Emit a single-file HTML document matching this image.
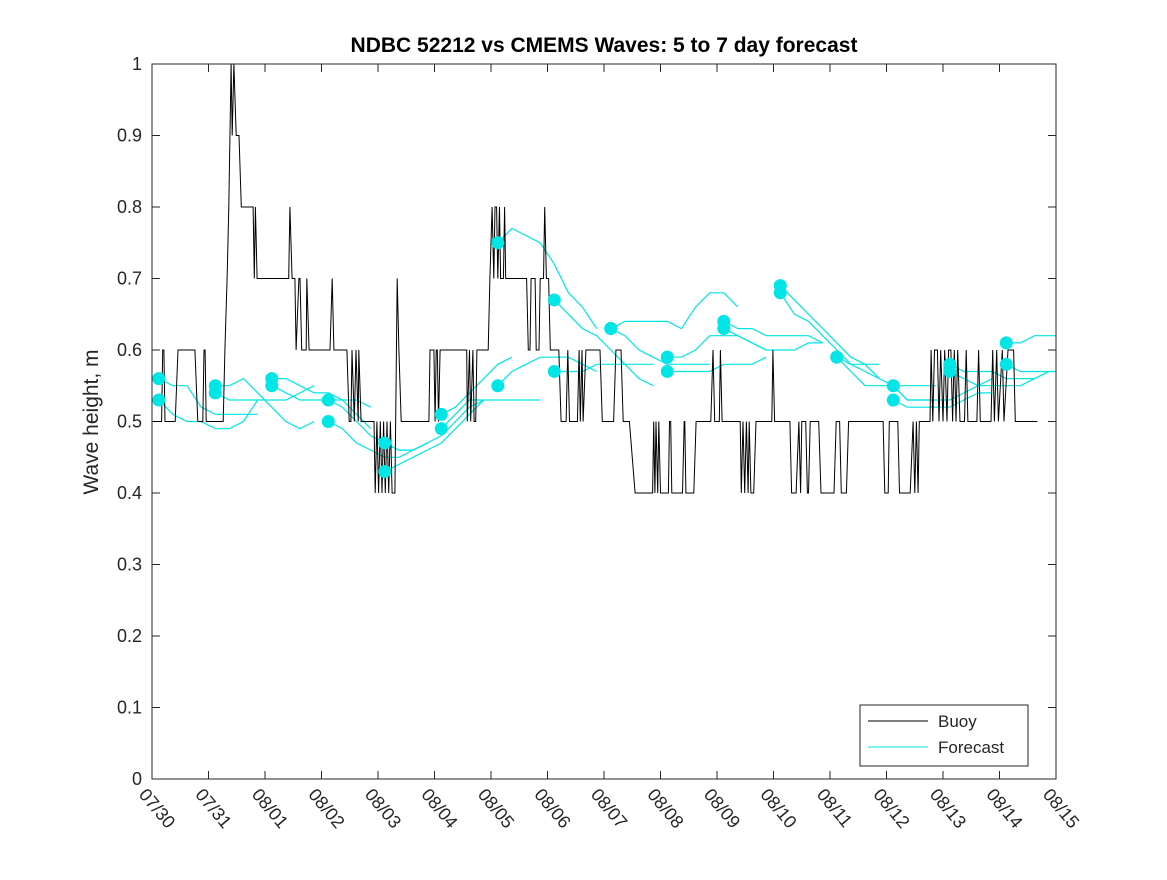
<!DOCTYPE html>
<html><head><meta charset="utf-8"><style>
body{margin:0;background:#fff}
svg text{font-family:"Liberation Sans",sans-serif;fill:#262626}
</style></head><body>
<svg id="chart" width="1167" height="875" viewBox="0 0 1167 875" xmlns="http://www.w3.org/2000/svg">
<defs><clipPath id="plotclip"><rect x="152" y="60" width="904" height="722"/></clipPath></defs>
<rect width="1167" height="875" fill="#fff"/>
<text x="604" y="52" text-anchor="middle" font-size="21" font-weight="bold" style="fill:#000">NDBC 52212 vs CMEMS Waves: 5 to 7 day forecast</text>
<text transform="translate(98,422) rotate(-90)" text-anchor="middle" font-size="21">Wave height, m</text>
<g id="grid"></g>
<g id="series" clip-path="url(#plotclip)"></g>
<rect x="152" y="64" width="904" height="715" fill="none" stroke="#262626" stroke-width="1"/>
<g>
<rect x="860" y="705" width="168" height="61" fill="#fff" stroke="#262626"/>
<line x1="868" y1="721" x2="928" y2="721" stroke="#000"/>
<text x="938" y="727" font-size="17">Buoy</text>
<line x1="868" y1="747" x2="928" y2="747" stroke="#00e5e5"/>
<text x="938" y="753" font-size="17">Forecast</text>
</g>
</svg>
<script>
const xTickLabels=["07/30","07/31","08/01","08/02","08/03","08/04","08/05","08/06","08/07","08/08","08/09","08/10","08/11","08/12","08/13","08/14","08/15"];
const yTicks=[0,0.1,0.2,0.3,0.4,0.5,0.6,0.7,0.8,0.9,1];
const buoyData=[[0,0.5],[0.17,0.5],[0.19,0.6],[0.21,0.6],[0.23,0.5],[0.41,0.5],[0.46,0.6],[0.76,0.6],[0.81,0.5],[0.90,0.5],[0.92,0.6],[0.94,0.6],[0.96,0.5],[1.26,0.5],[1.29,0.6],[1.33,0.7],[1.36,0.8],[1.40,1.0],[1.42,0.9],[1.45,1.0],[1.49,0.9],[1.54,0.9],[1.58,0.8],[1.79,0.8],[1.81,0.7],[1.83,0.8],[1.86,0.7],[2.42,0.7],[2.44,0.8],[2.48,0.7],[2.53,0.7],[2.55,0.6],[2.60,0.7],[2.62,0.7],[2.65,0.6],[2.73,0.6],[2.74,0.7],[2.78,0.6],[3.15,0.6],[3.19,0.7],[3.22,0.6],[3.45,0.6],[3.49,0.5],[3.52,0.5],[3.54,0.6],[3.58,0.5],[3.61,0.6],[3.65,0.5],[3.66,0.6],[3.70,0.5],[3.93,0.5],[3.95,0.4],[3.98,0.5],[4.01,0.4],[4.04,0.5],[4.07,0.4],[4.10,0.5],[4.13,0.4],[4.16,0.5],[4.19,0.4],[4.22,0.5],[4.25,0.4],[4.30,0.4],[4.34,0.7],[4.37,0.6],[4.41,0.5],[4.90,0.5],[4.92,0.6],[4.99,0.6],[5.01,0.5],[5.03,0.6],[5.05,0.6],[5.07,0.5],[5.10,0.6],[5.57,0.6],[5.58,0.5],[5.62,0.6],[5.64,0.5],[5.68,0.6],[5.70,0.5],[5.73,0.5],[5.75,0.6],[5.95,0.6],[5.98,0.7],[6.02,0.8],[6.05,0.7],[6.07,0.8],[6.10,0.8],[6.12,0.7],[6.15,0.8],[6.17,0.7],[6.22,0.7],[6.24,0.8],[6.26,0.7],[6.63,0.7],[6.66,0.6],[6.69,0.6],[6.71,0.7],[6.78,0.7],[6.80,0.6],[6.85,0.6],[6.87,0.7],[6.93,0.7],[6.95,0.8],[6.98,0.7],[7.02,0.7],[7.05,0.6],[7.20,0.6],[7.24,0.5],[7.33,0.5],[7.36,0.6],[7.39,0.5],[7.53,0.5],[7.56,0.6],[7.58,0.5],[7.61,0.6],[7.63,0.5],[7.68,0.6],[7.93,0.6],[7.97,0.5],[8.17,0.5],[8.21,0.6],[8.30,0.6],[8.34,0.5],[8.45,0.5],[8.55,0.4],[8.86,0.4],[8.88,0.5],[8.90,0.4],[8.92,0.5],[8.95,0.4],[8.97,0.5],[9.00,0.4],[9.14,0.4],[9.16,0.5],[9.18,0.5],[9.20,0.4],[9.39,0.4],[9.42,0.5],[9.43,0.5],[9.45,0.4],[9.59,0.4],[9.63,0.5],[9.89,0.5],[9.93,0.6],[9.96,0.5],[10.04,0.5],[10.06,0.6],[10.09,0.5],[10.41,0.5],[10.43,0.4],[10.46,0.5],[10.49,0.4],[10.52,0.5],[10.55,0.4],[10.57,0.5],[10.60,0.4],[10.65,0.4],[10.69,0.5],[10.97,0.5],[10.99,0.6],[11.02,0.5],[11.29,0.5],[11.32,0.4],[11.40,0.4],[11.45,0.5],[11.48,0.4],[11.50,0.5],[11.57,0.5],[11.60,0.4],[11.62,0.4],[11.65,0.5],[11.80,0.5],[11.84,0.4],[12.07,0.4],[12.11,0.5],[12.17,0.5],[12.20,0.4],[12.29,0.4],[12.33,0.5],[12.94,0.5],[12.97,0.4],[13.03,0.4],[13.05,0.5],[13.20,0.5],[13.23,0.4],[13.42,0.4],[13.47,0.5],[13.50,0.4],[13.53,0.5],[13.56,0.4],[13.58,0.5],[13.77,0.5],[13.79,0.6],[13.82,0.5],[13.85,0.6],[13.90,0.6],[13.93,0.5],[13.96,0.6],[14.00,0.5],[14.03,0.6],[14.07,0.5],[14.10,0.6],[14.14,0.6],[14.17,0.5],[14.20,0.6],[14.23,0.5],[14.26,0.6],[14.30,0.5],[14.38,0.5],[14.41,0.6],[14.44,0.5],[14.60,0.5],[14.63,0.6],[14.66,0.5],[14.85,0.5],[14.88,0.6],[14.91,0.5],[14.95,0.6],[14.98,0.5],[15.05,0.6],[15.08,0.5],[15.15,0.6],[15.25,0.6],[15.28,0.5],[15.67,0.5]];
const fcStart=[0.12,0.12,1.12,1.12,2.12,2.12,3.12,3.12,4.12,4.12,5.12,5.12,6.12,6.12,7.12,7.12,8.12,8.12,9.12,9.12,10.12,10.12,11.12,11.12,12.12,12.12,13.12,13.12,14.12,14.12,15.12,15.12];
const fcVals=[
[0.56,0.55,0.55,0.52,0.51,0.51,0.51,0.51],
[0.53,0.51,0.50,0.50,0.49,0.49,0.50,0.53],
[0.55,0.55,0.56,0.54,0.52,0.50,0.49,0.50],
[0.54,0.53,0.53,0.53,0.53,0.53,0.54,0.55],
[0.56,0.56,0.55,0.54,0.54,0.53,0.51,0.49],
[0.55,0.54,0.53,0.53,0.53,0.53,0.53,0.52],
[0.53,0.52,0.50,0.48,0.47,0.46,0.46,0.47],
[0.50,0.49,0.47,0.46,0.45,0.45,0.46,0.47],
[0.47,0.46,0.46,0.47,0.48,0.50,0.52,0.53],
[0.43,0.44,0.45,0.46,0.47,0.49,0.51,0.53],
[0.51,0.52,0.54,0.56,0.58,0.59],
[0.49,0.51,0.53,0.53,0.53,0.53,0.53,0.53],
[0.75,0.77,0.76,0.75,0.72,0.68,0.66,0.63],
[0.55,0.57,0.58,0.59,0.59,0.59,0.58,0.57],
[0.67,0.65,0.63,0.62,0.60,0.58,0.56,0.55],
[0.57,0.57,0.57,0.58,0.58,0.58,0.58,0.58],
[0.63,0.64,0.64,0.64,0.64,0.63,0.66,0.68,0.68,0.66],
[0.63,0.62,0.60,0.59,0.58,0.58,0.58,0.58],
[0.59,0.59,0.60,0.62,0.62,0.62,0.61,0.60],
[0.57,0.57,0.57,0.57,0.58,0.58,0.58,0.59],
[0.64,0.63,0.63,0.62,0.62,0.62,0.62,0.61],
[0.63,0.62,0.61,0.60,0.60,0.60,0.61,0.61],
[0.69,0.67,0.65,0.63,0.61,0.59,0.58,0.56],
[0.68,0.65,0.64,0.62,0.60,0.58,0.58,0.58],
[0.59,0.58,0.57,0.56,0.55,0.53,0.53,0.53],
[0.59,0.57,0.55,0.55,0.55,0.55,0.55,0.55],
[0.55,0.53,0.53,0.53,0.53,0.54,0.55,0.56],
[0.53,0.52,0.52,0.52,0.52,0.53,0.54,0.54],
[0.58,0.57,0.57,0.57,0.56,0.56,0.56,0.57],
[0.57,0.56,0.55,0.55,0.55,0.55,0.56,0.57],
[0.61,0.61,0.62,0.62,0.62,0.61,0.61],
[0.58,0.57,0.57,0.57,0.57,0.58]];
const fcStep=0.25;
const NS="http://www.w3.org/2000/svg";
const X0=152,X1=1056,Y0=779,Y1=64;
const xScale=d=>X0+(X1-X0)*d/(xTickLabels.length-1);
const yScale=v=>Y0-(Y0-Y1)*v;
const grid=document.getElementById('grid'),ser=document.getElementById('series');
function mk(tag,attrs,parent){const e=document.createElementNS(NS,tag);for(const k in attrs)e.setAttribute(k,attrs[k]);parent.appendChild(e);return e;}
yTicks.forEach(v=>{
 const y=yScale(v);
 const t=mk('line',{x1:X0,x2:X0+8,y1:y,y2:y,stroke:'#262626'},grid);
 
 
 const t2=mk('line',{x1:X1-8,x2:X1,y1:y,y2:y,stroke:'#262626'},grid);
 
 
 const l=mk('text',{x:X0-10,y:y+6,'text-anchor':'end','font-size':18},grid);
 l.textContent=String(v);
 
 
});
xTickLabels.forEach((s,i)=>{
 const x=xScale(i);
 const t=mk('line',{x1:x,x2:x,y1:Y0,y2:Y0-8,stroke:'#262626'},grid);
 
 
 const t2=mk('line',{x1:x,x2:x,y1:Y1,y2:Y1+8,stroke:'#262626'},grid);
 
 
 const l=mk('text',{transform:`translate(${x-14},${Y0+16}) rotate(50)`,'font-size':18},grid);
 l.textContent=s;
 
 
});
fcStart.forEach((s,i)=>{
 const pts=fcVals[i].map((v,j)=>xScale(s+j*fcStep).toFixed(1)+','+yScale(v).toFixed(1)).join(' ');
 const p=mk('polyline',{points:pts,fill:'none',stroke:'#00e5e5','stroke-width':1.2},ser);
 
 
});
const bpts=buoyData.map(p=>xScale(p[0]).toFixed(1)+','+yScale(p[1]).toFixed(1)).join(' ');
const bp=mk('polyline',{points:bpts,fill:'none',stroke:'#000','stroke-width':1},ser);


fcStart.forEach((s,i)=>{
 const c=mk('circle',{cx:xScale(s),cy:yScale(fcVals[i][0]),r:6.5,fill:'#00e5e5'},ser);
 
 
});
</script>
</body></html>
